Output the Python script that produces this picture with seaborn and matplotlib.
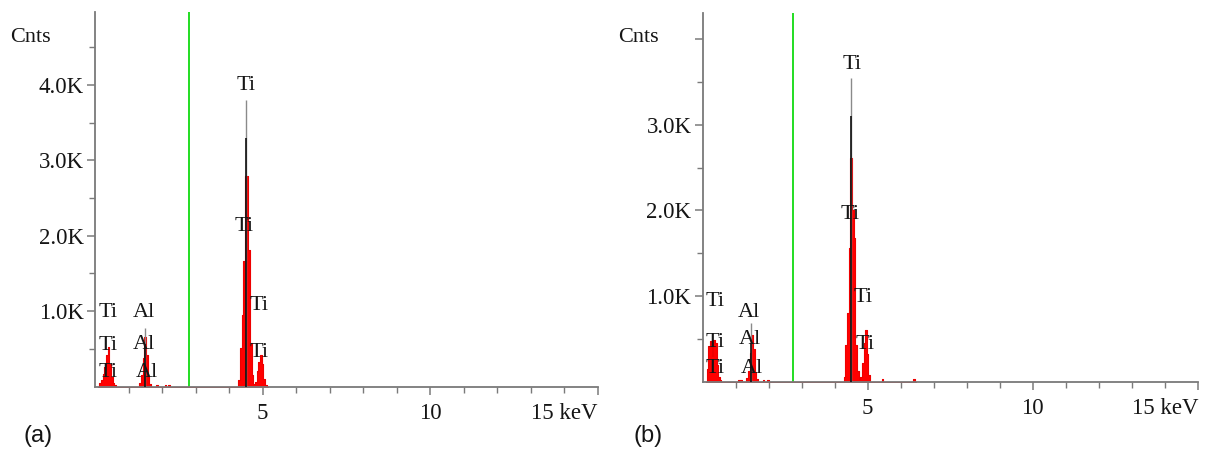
import matplotlib
matplotlib.use("Agg")
import matplotlib.pyplot as plt
import seaborn as sns
import pandas as pd

sns.set_style("ticks")
plt.rcParams['font.family'] = ['Liberation Serif', 'DejaVu Serif']

# ---------------- data ----------------
# panel (a) spectrum: energy (keV) and counts
energy_a = [0.10, 0.15, 0.20, 0.25, 0.30, 0.35, 0.40, 0.45, 0.50, 0.55, 0.60, 0.65,
            1.30, 1.35, 1.40, 1.45, 1.50, 1.55, 1.60, 1.65, 1.70,
            1.80, 1.85, 1.90, 2.05, 2.10, 2.15, 2.20, 2.25,
            4.25, 4.30, 4.35, 4.40, 4.45, 4.50, 4.55, 4.60, 4.65, 4.70, 4.75,
            4.80, 4.85, 4.90, 4.95, 5.00, 5.05, 5.10, 5.15]
counts_a = [0, 40, 90, 160, 260, 420, 520, 300, 130, 50, 15, 0,
            0, 40, 150, 380, 660, 420, 120, 30, 0,
            0, 20, 0, 0, 15, 0, 18, 0,
            0, 80, 510, 950, 1660, 2790, 2790, 1810, 580, 150, 30,
            60, 200, 330, 420, 300, 100, 20, 0]
# panel (a) line markers: energy, black height, grey tip height
marker_e_a = [1.48, 4.51]
marker_black_a = [560, 3300]
marker_grey_a = [780, 3800]

# panel (b) spectrum
energy_b = [0.10, 0.15, 0.20, 0.25, 0.30, 0.35, 0.40, 0.45, 0.50, 0.55, 0.60,
            1.05, 1.10, 1.30, 1.35, 1.40, 1.45, 1.50, 1.55, 1.60, 1.65, 1.70,
            1.80, 1.85, 1.90, 2.00, 2.05,
            4.25, 4.30, 4.35, 4.40, 4.45, 4.50, 4.55, 4.60, 4.65, 4.70, 4.75,
            4.80, 4.85, 4.90, 4.95, 5.00, 5.05, 5.10,
            5.40, 5.45, 5.50, 6.35, 6.40, 6.45]
counts_b = [0, 150, 420, 470, 300, 490, 450, 200, 60, 20, 0,
            0, 15, 0, 40, 130, 340, 550, 380, 110, 30, 0,
            0, 20, 0, 15, 0,
            0, 60, 430, 800, 1560, 2610, 2000, 1680, 430, 120, 30,
            60, 220, 450, 600, 320, 80, 0,
            0, 30, 0, 0, 35, 0]
marker_e_b = [1.48, 4.49]
marker_black_b = [450, 3100]
marker_grey_b = [690, 3550]

# element labels: (text, keV, counts)
labels_a = [("Ti", 4.52, 4000), ("Ti", 4.46, 2120), ("Ti", 4.91, 1070), ("Ti", 4.91, 450),
            ("Ti", 0.40, 980), ("Ti", 0.40, 550), ("Ti", 0.40, 190),
            ("Al", 1.45, 980), ("Al", 1.45, 560), ("Al", 1.54, 190)]
labels_b = [("Ti", 4.53, 3700), ("Ti", 4.47, 1950), ("Ti", 4.86, 980), ("Ti", 4.92, 430),
            ("Ti", 0.39, 940), ("Ti", 0.39, 460), ("Ti", 0.39, 160),
            ("Al", 1.39, 810), ("Al", 1.45, 490), ("Al", 1.51, 160)]

green_a = 2.80
green_b = 2.74

y_major = [1000, 2000, 3000, 4000]
y_labels_a = ["1.0K", "2.0K", "3.0K", "4.0K"]
y_labels_b = ["1.0K", "2.0K", "3.0K", ""]
y_minor_a = [500, 1500, 2500, 3500, 4500]
y_minor_b = [500, 1500, 2500, 3500]
x_major = [5, 10, 15]
x_labels = ["5", "10", "15 keV"]
x_minor = [1, 2, 3, 4, 6, 7, 8, 9, 11, 12, 13, 14]

# ---------------- figure ----------------
W, H = 1207, 454
fig = plt.figure(figsize=(W / 100, H / 100), dpi=100)
ax1 = fig.add_axes([95 / W, (H - 386.5) / H, 502.5 / W, 374.5 / H])
ax2 = fig.add_axes([702.5 / W, (H - 381.7) / H, 495.5 / W, 369 / H])

spine_col = "#7a7a7a"
txt_col = "#151515"
panels = [
    (ax1, energy_a, counts_a, marker_e_a, marker_black_a, marker_grey_a, labels_a,
     green_a, y_labels_a, y_minor_a, 4970),
    (ax2, energy_b, counts_b, marker_e_b, marker_black_b, marker_grey_b, labels_b,
     green_b, y_labels_b, y_minor_b, 4310),
]

for (ax, en, ct, me, mb, mg, labs, gx, ylabs, yminor, ytop) in panels:
    df = pd.DataFrame({"energy": en, "counts": ct})
    ax.fill_between(df["energy"], df["counts"], step="mid", color="#ff0000",
                    edgecolor="#ff0000", lw=0.5, zorder=2)
    sns.lineplot(data=df, x="energy", y="counts", ax=ax, drawstyle="steps-mid",
                 color="#ee0000", lw=0.8, zorder=2, estimator=None)
    # grey tip and black body of line markers
    ax.vlines(me, 0, mg, color="#8a8a8a", lw=1.0, zorder=3)
    ax.vlines(me, 0, mb, color="#111111", lw=1.2, zorder=4)
    ax.axvline(gx, color="#22dd22", lw=1.4, zorder=1)
    for t, x, y in labs:
        ax.text(x, y, t, ha="center", va="center", fontsize=16, color=txt_col, zorder=5)

    ax.set_xlim(0, 15)
    ax.set_ylim(0, ytop)
    ax.set_yticks(y_major)
    ax.set_yticklabels(ylabs)
    ax.set_yticks(yminor, minor=True)
    ax.set_xticks(x_major)
    ax.set_xticklabels(x_labels)
    ax.set_xticks(x_minor, minor=True)
    ax.get_xticklabels()[-1].set_ha("right")
    ax.set_xlabel("")
    ax.set_ylabel("")
    for s in ["top", "right"]:
        ax.spines[s].set_visible(False)
    for s in ["left", "bottom"]:
        ax.spines[s].set_color(spine_col)
        ax.spines[s].set_linewidth(1.3)
    ax.tick_params(axis="both", which="major", length=6, width=1.1, color=spine_col,
                   labelsize=16.5, labelcolor=txt_col)
    ax.tick_params(axis="both", which="minor", length=4, width=1.0, color=spine_col)
    ax.tick_params(axis="y", which="major", pad=2)
    ax.tick_params(axis="x", which="major", pad=6)
    ax.set_facecolor("white")

fig.text(30 / W, 1 - 37 / H, "Cnts", ha="center", va="center", fontsize=16, color=txt_col)
fig.text(638 / W, 1 - 37 / H, "Cnts", ha="center", va="center", fontsize=16, color=txt_col)
fig.text(38 / W, 1 - 436 / H, "(a)", ha="center", va="center", fontsize=17,
         family=["Liberation Sans", "DejaVu Sans"], color=txt_col)
fig.text(648 / W, 1 - 436 / H, "(b)", ha="center", va="center", fontsize=17,
         family=["Liberation Sans", "DejaVu Sans"], color=txt_col)

fig.savefig("out.png", dpi=100, facecolor="white")
